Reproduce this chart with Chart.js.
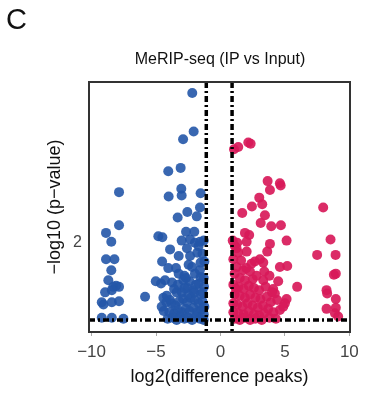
<!DOCTYPE html>
<html>
<head>
<meta charset="utf-8">
<script src="https://cdn.jsdelivr.net/npm/chart.js@4/dist/chart.umd.min.js"></script>
<style>
  body { margin: 0; background: #fff; }
  #wrap { position: relative; width: 387px; height: 399px; font-family: "Liberation Sans", Arial, sans-serif; }
  #panel { position: absolute; left: 6px; top: 5px; font-size: 29px; line-height: 29px; color: #111; }
  #title { position: absolute; left: 220px; top: 50px; transform: translateX(-50%); font-size: 16px; line-height: 18px; color: #111; white-space: nowrap; }
  canvas { position: absolute; left: 0; top: 0; }
</style>
</head>
<body>
<div id="wrap">
  <canvas id="volcano" width="387" height="399"></canvas>
  <div id="panel">C</div>
  <div id="title">MeRIP-seq (IP vs Input)</div>
</div>
<script>
// ---- data ----
const X_TICKS = [-10, -5, 0, 5, 10];
const Y_TICKS = [2];
const X_MIN = -10.2, X_MAX = 10.05;
const Y_MIN = 1.19, Y_MAX = 3.46;
const X_CUTS = [-1.1, 0.9];
const Y_CUT = 1.3;

// down-regulated peaks (blue)
const BLUE_X = [
  -2.19, -2.08, -2.90, -4.05, -3.09, -7.87, -3.04, -4.02, -3.01, -1.54,
  -1.59, -2.57, -3.32, -1.84, -7.87, -8.88, -8.47, -4.82, -4.51, -2.67,
  -2.03, -2.36, -1.98, -1.80, -3.91, -3.24, -8.88, -8.23, -4.53, -2.36,
  -2.47, -1.54, -1.25, -8.47, -4.05, -3.45, -3.24, -2.80, -2.67, -1.98,
  -1.54, -8.70, -5.02, -4.61, -3.76, -2.88, -1.69, -8.31, -7.87, -8.10,
  -8.95, -8.43, -2.57, -2.11, -1.28, -5.85, -3.40, -4.17, -4.43, -3.91,
  -9.21, -9.08, -8.43, -7.87, -4.56, -9.21, -8.43, -7.53, -3.97,
  -4.2, -3.8, -3.5, -3.2, -2.9, -2.6, -2.3, -2.0, -1.7, -1.4,
  -4.4, -3.6, -3.3, -3.0, -2.7, -2.4, -2.1, -1.8, -1.5, -1.3,
  -4.1, -3.7, -3.4, -3.1, -2.8, -2.5, -2.2, -1.9, -1.6, -1.3,
  -3.0, -2.5, -2.0, -1.5, -3.6, -1.9, -2.4, -1.3, -1.6, -2.2,
  -1.4, -1.7, -2.6, -1.3, -1.4, -2.8, -3.3, -1.25, -3.01, -1.59, -4.3
];
const BLUE_Y = [
  3.36, 3.01, 2.94, 2.65, 2.68, 2.46, 2.49, 2.42, 2.43, 2.45,
  2.32, 2.28, 2.23, 2.24, 2.16, 2.09, 2.01, 2.06, 2.05, 2.10,
  2.10, 2.03, 2.00, 1.91, 1.94, 1.88, 1.85, 1.85, 1.83, 1.88,
  1.80, 1.82, 1.83, 1.75, 1.77, 1.77, 1.72, 1.70, 1.68, 1.72,
  1.69, 1.66, 1.65, 1.63, 1.64, 1.66, 1.63, 1.60, 1.60, 1.61,
  1.55, 1.57, 1.59, 1.57, 1.60, 1.51, 1.55, 1.52, 1.50, 1.48,
  1.46, 1.44, 1.46, 1.47, 1.42, 1.32, 1.32, 1.31, 1.37,
  1.46, 1.45, 1.43, 1.47, 1.49, 1.46, 1.50, 1.48, 1.45, 1.47,
  1.38, 1.36, 1.39, 1.37, 1.40, 1.38, 1.41, 1.37, 1.39, 1.35,
  1.31, 1.32, 1.30, 1.33, 1.31, 1.32, 1.30, 1.33, 1.31, 1.30,
  1.55, 1.53, 1.55, 1.53, 1.58, 1.62, 1.65, 1.68, 1.75, 1.78,
  1.90, 1.97, 1.95, 2.02, 1.55, 1.59, 1.62, 1.42, 2.02, 2.01, 1.66
];

// up-regulated peaks (red)
const RED_X = [
  1.05, 1.38, 2.16, 2.34, 3.66, 4.61, 4.67, 3.84, 3.01, 3.24,
  2.44, 1.69, 3.45, 7.97, 3.12, 3.94, 4.69, 1.90, 2.23, 5.13,
  8.54, 2.03, 3.84, 1.12, 3.63, 7.50, 8.93, 2.03, 1.38, 2.67,
  3.06, 3.32, 4.61, 5.18, 8.80, 8.95, 1.26, 1.77, 2.29, 3.32,
  4.48, 5.95, 4.09, 4.22, 8.23, 8.28, 8.95, 5.13, 5.00, 8.23,
  8.95, 8.88, 9.13, 4.61, 4.87,
  1.0, 1.1, 1.5, 1.9, 2.5, 2.8, 1.0, 1.4, 1.8, 2.2,
  2.6, 3.0, 3.5, 1.1, 1.5, 1.9, 2.3, 2.7, 3.1, 3.6,
  3.9, 1.0, 1.3, 1.7, 2.1, 2.5, 2.9, 3.3, 3.7, 4.1,
  1.0, 1.4, 1.8, 2.2, 2.6, 3.0, 3.4, 1.1, 1.5, 1.9,
  2.3, 2.7, 3.2, 3.8, 4.3, 1.2, 2.0, 2.4, 1.6, 3.8,
  3.4, 4.0, 4.4, 0.95, 1.3, 1.25
];
const RED_Y = [
  2.85, 2.87, 2.91, 2.90, 2.56, 2.54, 2.52, 2.48, 2.41, 2.35,
  2.33, 2.27, 2.25, 2.32, 2.18, 2.15, 2.16, 2.09, 2.07, 2.02,
  2.03, 2.01, 1.99, 1.97, 1.92, 1.89, 1.89, 1.92, 1.91, 1.83,
  1.85, 1.82, 1.78, 1.79, 1.71, 1.72, 1.78, 1.75, 1.74, 1.66,
  1.65, 1.60, 1.58, 1.54, 1.57, 1.54, 1.49, 1.49, 1.45, 1.40,
  1.41, 1.36, 1.33, 1.39, 1.42,
  1.85, 1.72, 1.68, 1.66, 1.67, 1.70, 1.62, 1.60, 1.58, 1.61,
  1.59, 1.57, 1.60, 1.53, 1.52, 1.50, 1.53, 1.50, 1.49, 1.51,
  1.46, 1.45, 1.44, 1.42, 1.45, 1.43, 1.41, 1.43, 1.40, 1.37,
  1.37, 1.36, 1.35, 1.38, 1.35, 1.34, 1.36, 1.31, 1.30, 1.32,
  1.30, 1.31, 1.30, 1.32, 1.31, 1.58, 1.77, 1.81, 1.84, 1.70,
  1.74, 1.55, 1.48, 2.02, 2.00, 1.95
];

const FONT = '"Liberation Sans", Arial, sans-serif';

function toPoints(xs, ys) {
  return xs.map((x, i) => ({ x: x, y: ys[i] }));
}

// threshold lines + box frame, drawn over the points
const cutoffPlugin = {
  id: 'cutoffs',
  afterDatasetsDraw(chart) {
    const { ctx, chartArea: a, scales: { x, y } } = chart;
    ctx.save();
    ctx.strokeStyle = '#000';
    ctx.lineWidth = 3.5;
    ctx.setLineDash([6, 3, 2, 3]);
    X_CUTS.forEach(v => {
      const px = x.getPixelForValue(v);
      ctx.beginPath();
      ctx.moveTo(px, a.top);
      ctx.lineTo(px, a.bottom);
      ctx.stroke();
    });
    const py = y.getPixelForValue(Y_CUT);
    ctx.beginPath();
    ctx.moveTo(a.left, py);
    ctx.lineTo(a.right, py);
    ctx.stroke();

    ctx.setLineDash([]);
    ctx.lineWidth = 2;
    ctx.strokeStyle = '#333';
    ctx.strokeRect(a.left, a.top, a.right - a.left, a.bottom - a.top);
    ctx.restore();
  }
};

new Chart(document.getElementById('volcano').getContext('2d'), {
  type: 'scatter',
  data: {
    datasets: [
      {
        label: 'down',
        data: toPoints(BLUE_X, BLUE_Y),
        backgroundColor: 'rgba(35, 86, 168, 0.9)',
        borderWidth: 0,
        pointRadius: 5,
      },
      {
        label: 'up',
        data: toPoints(RED_X, RED_Y),
        backgroundColor: 'rgba(216, 26, 90, 0.92)',
        borderWidth: 0,
        pointRadius: 5,
      },
    ],
  },
  options: {
    responsive: false,
    animation: false,
    layout: { padding: { left: 0, right: 37, top: 82, bottom: 0 } },
    plugins: {
      legend: { display: false },
      tooltip: { enabled: false },
    },
    scales: {
      x: {
        type: 'linear',
        min: X_MIN,
        max: X_MAX,
        afterBuildTicks: s => { s.ticks = X_TICKS.map(v => ({ value: v })); },
        afterFit: s => { s.height = 67; },
        grid: { drawOnChartArea: false, tickLength: 4, tickColor: '#aaa' },
        border: { display: false },
        ticks: {
          color: '#444',
          padding: 6,
          font: { family: FONT, size: 17 },
          callback: v => String(v).replace('-', '\u2212'),
        },
        title: {
          display: true,
          text: 'log2(difference peaks)',
          color: '#111',
          font: { family: FONT, size: 18 },
          padding: { top: 0, bottom: 11 },
        },
      },
      y: {
        type: 'linear',
        min: Y_MIN,
        max: Y_MAX,
        afterBuildTicks: s => { s.ticks = Y_TICKS.map(v => ({ value: v })); },
        afterFit: s => { s.width = 89; },
        grid: { drawOnChartArea: false, drawTicks: false },
        border: { display: false },
        ticks: { color: '#444', padding: 7, font: { family: FONT, size: 16 } },
        title: {
          display: true,
          text: '\u2212log10 (p\u2212value)',
          color: '#111',
          font: { family: FONT, size: 18 },
          padding: { top: 44, bottom: 0 },
        },
      },
    },
  },
  plugins: [cutoffPlugin],
});
</script>
</body>
</html>
